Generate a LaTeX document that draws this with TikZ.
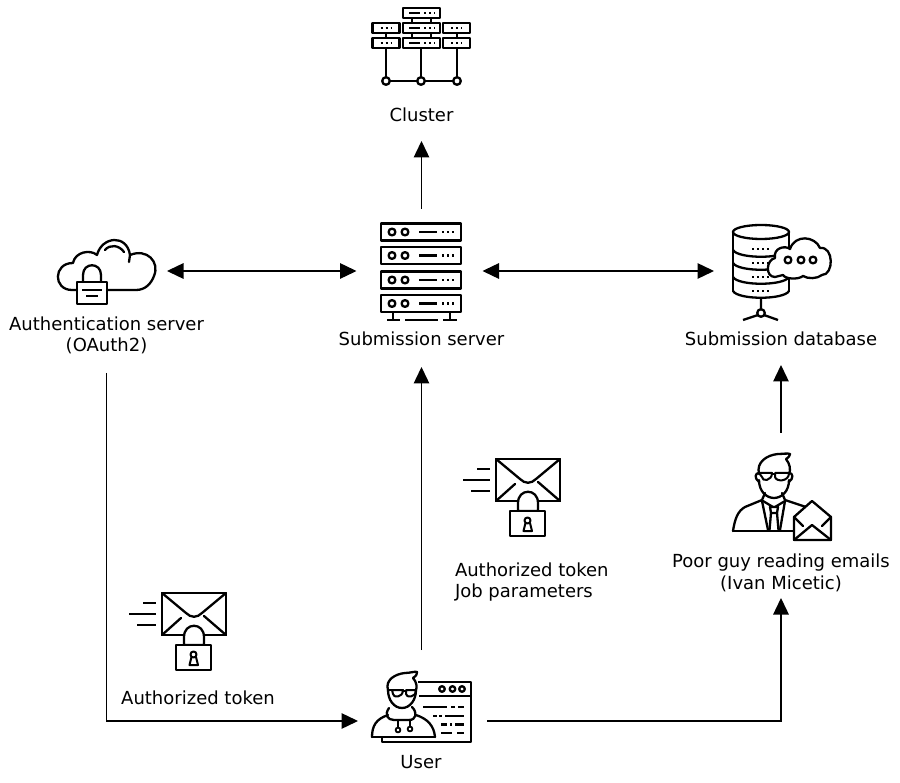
\documentclass[tikz,border=0pt]{standalone}
\usepackage{fontspec}
\setmainfont{DejaVu Sans}
\usetikzlibrary{arrows.meta}
\tikzset{
  x=1pt,y=-1pt,
  ic/.style={line width=2.3pt,line join=round,line cap=round,draw=black},
  wh/.style={fill=white},
  dotl/.style={line width=2.2pt,dash pattern=on 2.2pt off 2.8pt,line cap=butt},
  conn/.style={line width=1.4pt,-{Triangle[length=16.5pt,width=15.5pt]}},
  conn2/.style={line width=1.4pt,{Triangle[length=16.5pt,width=15.5pt]}-{Triangle[length=16.5pt,width=15.5pt]}},
  lab/.style={inner sep=0pt,outer sep=0pt,align=center,font=\fontsize{18}{21.5}\selectfont},
  hold/.style={inner sep=0pt,outer sep=0pt,minimum width=#1},
  srvbox/.pic={
    \draw[ic,wh,line cap=butt] (381,0) rectangle (461,17);
    \draw[ic] (392,8.5) circle (3.4) (405,8.5) circle (3.4);
    \draw[ic,line cap=butt] (419,8.5) -- (437,8.5);
    \draw[dotl] (442,8.5) -- (454,8.5);
  },
  clbox/.pic={
    \draw[ic,wh] (0,0) rectangle (27,10);
    \draw[dotl,line width=1.8pt] (8,5) -- (19,5);
  },
  lockmail/.pic={
    \draw[ic,line cap=butt] (496,459) rectangle (560,501);
    \draw[ic] (496,459) -- (520,479) .. controls (525,484) and (531,484) .. (536,479) -- (560,459);
    \draw[ic] (496,501) -- (515,484) (560,501) -- (538,482);
    \draw[ic,line cap=butt] (477,469) -- (490,469) (463,480) -- (490,480) (471,491) -- (490,491);
    \draw[ic,wh] (518,511) -- (518,503) .. controls (518,488) and (538,488) .. (538,503) -- (538,511) -- cycle;
    \draw[ic,wh] (510,511) rectangle (545,536);
    \draw[ic,line width=2pt] (527.5,520.5) circle (3);
    \draw[ic,line width=2pt] (525.5,523) -- (523.5,531) -- (532,531) -- (530,523);
  },
}
\begin{document}
\begin{tikzpicture}
\useasboundingbox[fill=white] (0,0) rectangle (900,783);

% invisible holders for the icons, and labels
\node[hold=120pt,minimum height=100pt] (clusterIcon) at (421,50) {};
\node[lab,minimum height=52pt] (clusterLab) at (421.5,115) {Cluster};
\node[hold=126pt,minimum height=124pt] (srvIcon) at (419.5,271) {};
\node[lab,minimum height=56pt] (srvLab) at (421.5,339) {Submission server};
\node[hold=120pt,minimum height=80pt] (authIcon) at (107,271) {};
\node[lab,minimum height=75pt] (authLab) at (106.5,335.5) {Authentication server\\(OAuth2)};
\node[hold=134pt,minimum height=100pt] (dbIcon) at (781,271) {};
\node[lab,minimum height=52pt] (dbLab) at (781,339) {Submission database};
\node[hold=100pt,minimum height=100pt] (guyIcon) at (781,483) {};
\node[lab,minimum height=50pt] (guyLab) at (781,573) {Poor guy reading emails\\(Ivan Micetic)};
\node[hold=129pt,minimum height=120pt] (userIcon) at (422.5,710) {};
\node[lab] (userLab) at (421,762) {User};
\node[lab,align=left,anchor=west] (tok2) at (455,582) {Authorized token\\Job parameters};
\node[lab] (tok1) at (198,697.5) {Authorized token};
\coordinate (userIn) at ([yshift=-11pt]userIcon.west);
\coordinate (userOut) at ([yshift=-11pt]userIcon.east);

% connectors
\draw[conn] (srvIcon.north -| clusterLab.south) -- (clusterLab.south);
\draw[conn2] (authIcon.east) -- (srvIcon.west);
\draw[conn2] (srvIcon.east) -- (dbIcon.west);
\draw[conn] (userIcon.north -| srvLab.south) -- (srvLab.south);
\draw[conn] (guyIcon.north) -- (dbLab.south);
\draw[conn] (authLab.south) |- (userIn);
\draw[conn] (userOut) -| (guyLab.south);

% cluster icon
\foreach \xx in {386,421,457} \draw[ic,line cap=butt] (\xx,44) -- (\xx,77);
\draw[ic,line cap=butt] (390,81) -- (417,81) (425,81) -- (453,81);
\foreach \xx in {386,421,457} \draw[ic] (\xx,81) circle (3.8);
\draw[ic,line cap=butt] (386,30) -- (386,40) (457,30) -- (457,40) (412,16) -- (412,25) (431,16) -- (431,25) (412,30) -- (412,40) (431,30) -- (431,40);
\draw[ic,wh] (403,8) rectangle (440,18);
\draw[ic,wh] (403,23) rectangle (440,33);
\draw[ic,wh] (403,38) rectangle (440,48);
\foreach \yy in {13,28,43}{
  \draw[ic,line width=1.8pt,line cap=butt] (409,\yy) -- (420,\yy);
  \draw[dotl,line width=1.8pt] (424,\yy) -- (435,\yy);
}
\pic at (372.5,23) {clbox};
\pic at (372.5,38) {clbox};
\pic at (443,23) {clbox};
\pic at (443,38) {clbox};

% server icon
\pic at (0,223.5) {srvbox};
\pic at (0,247) {srvbox};
\pic at (0,271.5) {srvbox};
\pic at (0,295) {srvbox};
\draw[ic,line cap=butt] (393,312) -- (393,320) (450,312) -- (450,320)
  (387,320) -- (400,320) (405,320) -- (438,320) (443,320) -- (457,320);

% authentication cloud
\draw[ic] (77,290) -- (72,290) .. controls (53,290) and (53,263) .. (73,263)
  .. controls (75,252) and (90,249) .. (97,255)
  .. controls (102,236) and (127,234) .. (130,255)
  .. controls (147,248) and (160,262) .. (154,276)
  .. controls (151,284) and (145,290) .. (136,290) -- (107,290);
\draw[ic] (105,250) .. controls (110,244) and (119,245) .. (124,252);
\draw[ic] (130,255) -- (129,262);
\draw[ic] (83,282) -- (83,275) .. controls (83,262) and (101,262) .. (101,275) -- (101,282);
\draw[ic] (77,282) rectangle (107,304);
\draw[ic,line cap=butt] (82,290) -- (102,290) (86,296) -- (98,296);

% database icon
\draw[ic] (733,232) -- (733,291) (789,232) -- (789,291);
\draw[ic] (761,232) ellipse (28 and 7);
\foreach \yy in {250,263,277,291}
  \draw[ic] (733,\yy) .. controls (738,\yy+9) and (784,\yy+9) .. (789,\yy);
\foreach \yy in {249,263,277,291}
  \draw[dotl] (752,\yy) -- (771,\yy);
\draw[ic,line cap=butt] (761,298) -- (761,309) (758,315) -- (743,320) (764,315) -- (778,320);
\draw[ic] (761,313) circle (3.8);
\draw[ic,wh] (775,277) .. controls (765,277) and (766,260) .. (775,258)
  .. controls (773,248) and (785,245) .. (790,249)
  .. controls (795,234) and (815,236) .. (820,248)
  .. controls (834,246) and (834,275) .. (822,275)
  .. controls (817,279) and (808,279) .. (803,276)
  .. controls (798,280) and (785,279) .. (783,275) -- cycle;
\foreach \xx in {788,801,813} \draw[ic] (\xx,260) circle (3.4);

% poor guy icon
\draw[ic] (759,474) .. controls (756,462) and (767,455) .. (778,454) .. controls (783,454) and (788,453) .. (790,454) .. controls (789,458) and (787,458) .. (786,459) .. controls (790,464) and (791,470) .. (789,474);
\draw[ic] (759,473) .. controls (755,473) and (754,478) .. (759,482) (789,473) .. controls (793,473) and (794,478) .. (789,482);
\draw[ic] (759,480) .. controls (759,492) and (767,498) .. (774,498) .. controls (781,498) and (789,492) .. (789,480);
\draw[ic,line width=2pt] (759,473) -- (772,473) .. controls (772,481) and (762,482) .. (762,477) -- cycle;
\draw[ic,line width=2pt] (775,473) -- (789,473) .. controls (789,482) and (776,482) .. (775,477) -- cycle;
\draw[ic] (772,474) -- (775,474);
\draw[ic] (733,531) .. controls (735,518) and (738,511) .. (745,507) -- (762,500) -- (765,493);
\draw[ic] (782,493) -- (785,500) -- (806,507);
\draw[ic] (733,531) -- (795,531);
\draw[ic] (762,501) -- (768,530) (785,501) -- (780,530);
\draw[ic] (763,501) -- (773,507) (785,501) -- (775,507);
\draw[ic] (770,507) -- (778,507) -- (777,513) -- (771,513) -- cycle;
\draw[ic] (771,513) -- (769.5,530) (777,513) -- (778.5,530);
\draw[ic,wh] (794,517) -- (812,501) -- (831,517) -- (831,540) -- (794,540) -- cycle;
\draw[ic] (794,517) -- (803,526) (831,517) -- (822,526);
\draw[ic] (794,540) -- (812,525) -- (831,540);

% user icon
\draw[ic,line cap=butt] (418,682) -- (471,682) -- (471,742) -- (382,742) -- (382,737);
\draw[ic,line cap=butt] (419,696) -- (471,696);
\foreach \xx in {442,452.5,462} \draw[ic] (\xx,689) circle (2.8);
\draw[ic,line cap=butt] (423,707) -- (447,707) (451,707) -- (455,707) (458,707) -- (464,707)
  (433,716) -- (437,716) (439,716) -- (442,716) (445,716) -- (464,716)
  (441,724.5) -- (447,724.5) (450,724.5) -- (452,724.5) (455,724.5) -- (464,724.5)
  (441,733) -- (452,733) (457,733) -- (464,733);
\draw[ic] (388,690) .. controls (385,680) and (395,674) .. (405,673) .. controls (410,673) and (416,671) .. (417,672) .. controls (417,676) and (414,677) .. (413,678) .. controls (417,682) and (417,688) .. (416,690);
\draw[ic] (388,690) .. controls (388,700) and (394,708) .. (402,708) .. controls (410,708) and (416,700) .. (416,690);
\draw[ic,line width=2pt] (392,690) -- (403,690) .. controls (403,698) and (393,698) .. (393,694) -- cycle;
\draw[ic,line width=2pt] (406,690) -- (416,690) .. controls (416,698) and (406,698) .. (406,694) -- cycle;
\draw[ic] (403,691) -- (406,691) (388,690) -- (392,690);
\draw[ic] (389,708) .. controls (384,715) and (388,720) .. (394,720) -- (409,720) .. controls (416,720) and (418,713) .. (412,707);
\draw[ic] (372,737) .. controls (372,726) and (376,719) .. (388,715);
\draw[ic] (416,715) .. controls (428,719) and (434,726) .. (435,737);
\draw[ic] (372,737) -- (435,737);
\draw[ic,line cap=butt] (398,720) -- (398,727) (410,720) -- (410,726);
\draw[ic,line width=1.8pt] (398,730) circle (2.4) (410,729) circle (2.4);

% envelopes with locks
\pic at (0,0) {lockmail};
\pic at (-334,134) {lockmail};
\end{tikzpicture}
\end{document}
